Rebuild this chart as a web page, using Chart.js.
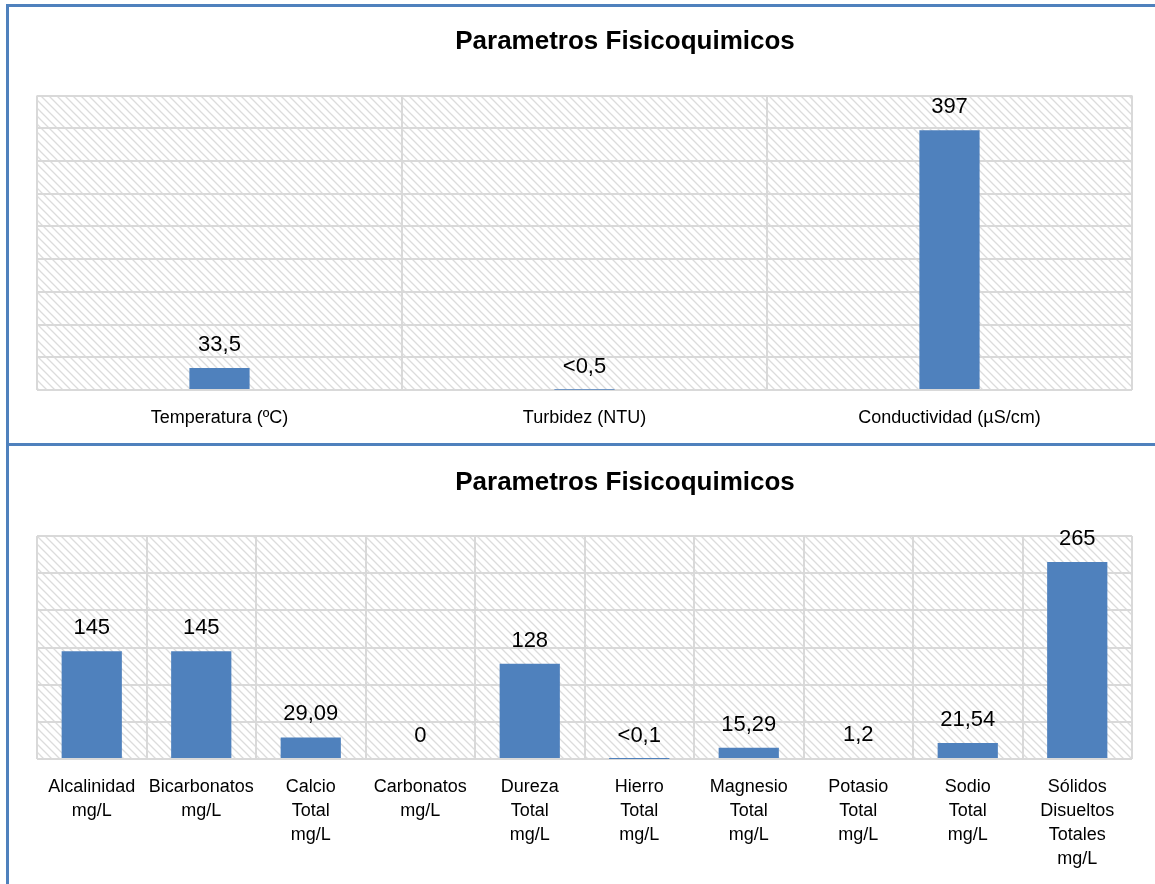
<!DOCTYPE html>
<html lang="es">
<head>
<meta charset="UTF-8" />
<title>Parametros Fisicoquimicos</title>
<script src="https://cdn.jsdelivr.net/npm/chart.js"></script>
<style>
  html, body { margin: 0; padding: 0; background: #fff; overflow: hidden; }
  body { width: 1155px; height: 884px; position: relative; }
  .panel { position: absolute; left: 6px; border-left: 3px solid #4f81bd; box-sizing: border-box; }
  #top { top: 4px; width: 1400px; height: 442px; border-top: 3px solid #4f81bd; border-bottom: 3px solid #4f81bd; }
  #bottom { top: 443px; width: 1400px; height: 441px; }
  .panel canvas { position: absolute; left: -9px; }
</style>
</head>
<body>
<div class="panel" id="top"><canvas id="chart1"></canvas></div>
<div class="panel" id="bottom"><canvas id="chart2"></canvas></div>

<script>
  const titleText = "Parametros Fisicoquimicos";

  // top chart
  const cats1 = ["Temperatura (ºC)", "Turbidez (NTU)", "Conductividad (µS/cm)"];
  const vals1 = [33.5, 0.5, 397];
  const labels1 = ["33,5", "<0,5", "397"];

  // bottom chart
  const cats2 = [
    ["Alcalinidad", "mg/L"],
    ["Bicarbonatos", "mg/L"],
    ["Calcio", "Total", "mg/L"],
    ["Carbonatos", "mg/L"],
    ["Dureza", "Total", "mg/L"],
    ["Hierro", "Total", "mg/L"],
    ["Magnesio", "Total", "mg/L"],
    ["Potasio", "Total", "mg/L"],
    ["Sodio", "Total", "mg/L"],
    ["Sólidos", "Disueltos", "Totales", "mg/L"]
  ];
  const vals2 = [145, 145, 29.09, 0, 128, 0.1, 15.29, 1.2, 21.54, 265];
  const labels2 = ["145", "145", "29,09", "0", "128", "<0,1", "15,29", "1,2", "21,54", "265"];

  const FONT = '"Liberation Sans Narrow", "Arial Narrow", "Liberation Sans", Arial, sans-serif';
  const BAR = "#4f81bd";
  const GRID = "#d9d9d9";

  function hatch() {
    const c = document.createElement("canvas");
    c.width = 8; c.height = 8;
    const g = c.getContext("2d");
    g.fillStyle = "#fff";
    g.fillRect(0, 0, 8, 8);
    g.strokeStyle = "#dcdcdc";
    g.lineWidth = 1.3;
    g.beginPath();
    g.moveTo(0, 0); g.lineTo(8, 8);
    g.moveTo(-4, 4); g.lineTo(4, 12);
    g.moveTo(4, -4); g.lineTo(12, 4);
    g.stroke();
    return g.createPattern(c, "repeat");
  }

  // fills plot area with the diagonal pattern
  const hatchBg = {
    id: "hatchBg",
    beforeDraw(chart) {
      const { ctx, chartArea: a } = chart;
      ctx.save();
      ctx.fillStyle = hatch();
      ctx.fillRect(a.left, a.top, a.right - a.left, a.bottom - a.top);
      ctx.restore();
    }
  };

  // value labels above bars
  const valueLabels = {
    id: "valueLabels",
    afterDatasetsDraw(chart) {
      const { ctx } = chart;
      const texts = chart.options.plugins.valueLabels.texts;
      ctx.save();
      ctx.font = "22px " + FONT;
      ctx.fillStyle = "#000";
      ctx.textAlign = "center";
      ctx.textBaseline = "alphabetic";
      chart.getDatasetMeta(0).data.forEach((bar, i) => {
        ctx.fillText(texts[i], bar.x, bar.y - 17);
      });
      ctx.restore();
    }
  };

  function makeChart(id, w, h, cats, vals, texts, ymax, barPct, titlePad, axisH) {
    const cv = document.getElementById(id);
    cv.width = w; cv.height = h;
    cv.style.width = w + "px"; cv.style.height = h + "px";
    return new Chart(cv, {
      type: "bar",
      data: {
        labels: cats,
        datasets: [{
          data: vals,
          backgroundColor: BAR,
          borderWidth: 0,
          barPercentage: barPct,
          categoryPercentage: 1
        }]
      },
      options: {
        responsive: false,
        animation: false,
        // title centred on 37..1213, plot area kept at 37..1132 by an empty right axis
        layout: { padding: { left: 37, right: w - 1213, top: 0, bottom: 0 } },
        plugins: {
          legend: { display: false },
          tooltip: { enabled: false },
          title: {
            display: true,
            text: titleText,
            color: "#000",
            font: { family: FONT, size: 26, weight: "bold", lineHeight: 1.2 },
            padding: titlePad
          },
          valueLabels: { texts }
        },
        scales: {
          x: {
            grid: { color: GRID, lineWidth: 2, drawTicks: false, offset: true },
            border: { display: false },
            ticks: { color: "#000", font: { family: FONT, size: 18, lineHeight: 1.333 }, padding: 16, maxRotation: 0, autoSkip: false },
            afterFit: s => { s.height = axisH; }
          },
          y: {
            min: 0,
            max: ymax,
            ticks: { display: false, stepSize: 50 },
            grid: { color: GRID, lineWidth: 2, drawTicks: false },
            border: { display: false }
          },
          y2: {
            position: "right",
            min: 0,
            max: ymax,
            ticks: { display: false },
            grid: { display: false },
            border: { display: false },
            afterFit: s => { s.width = 81; }
          }
        }
      },
      plugins: [hatchBg, valueLabels]
    });
  }

  makeChart("chart1", 1259, 436, cats1, vals1, labels1, 450, 0.165, { top: 19.4, bottom: 38 }, 53);
  makeChart("chart2", 1259, 441, cats2, vals2, labels2, 300, 0.55, { top: 24.4, bottom: 37.4 }, 125);
</script>
</body>
</html>
